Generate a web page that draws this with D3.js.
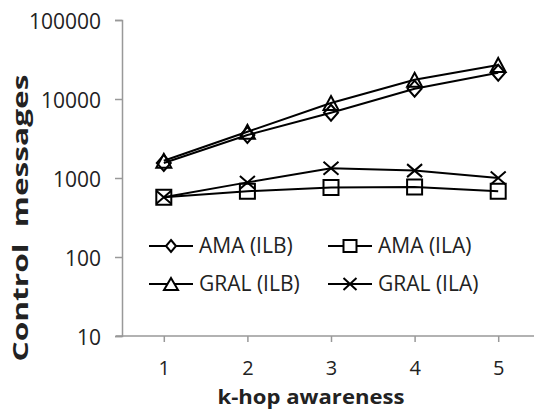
<!DOCTYPE html>
<html>
<head>
<meta charset="utf-8">
<script src="https://cdn.jsdelivr.net/npm/d3@7"></script>
<style>
  body { margin: 0; background: #fff; }
  text { font-family: "Open Sans", sans-serif; fill: #222; }
  .axis path, .axis line { stroke: #999; stroke-width: 1.5; }
  .axis text { font-size: 21px; }
  .title { font-weight: bold; font-size: 21px; }
  .legend text { font-size: 21px; }
</style>
</head>
<body>
<div id="chart"></div>
<script>
// data
var hops = [1, 2, 3, 4, 5];
var amaIlb = [1550, 3500, 6700, 13500, 21500];
var gralIlb = [1650, 3850, 8900, 17500, 27000];
var amaIla = [570, 680, 760, 770, 680];
var gralIla = [570, 880, 1330, 1240, 1000];
var yTicks = [10, 100, 1000, 10000, 100000];

var series = [
  { name: "AMA (ILB)", values: amaIlb, shape: "diamond" },
  { name: "AMA (ILA)", values: amaIla, shape: "square" },
  { name: "GRAL (ILB)", values: gralIlb, shape: "triangle" },
  { name: "GRAL (ILA)", values: gralIla, shape: "cross" }
];

// svg params
var svgWidth = 534;
var svgHeight = 410;

var svg = d3.select("#chart").append("svg")
  .attr("width", svgWidth)
  .attr("height", svgHeight);

// scales
var xScale = d3.scaleLinear().domain([0.5, 5.5]).range([122, 540]);
var yScale = d3.scaleLog().domain([10, 100000]).range([336, 20]);

// y axis
svg.append("g")
  .attr("class", "axis")
  .attr("transform", "translate(122,0)")
  .call(d3.axisLeft(yScale).tickValues(yTicks).tickFormat(d3.format("d")).tickSize(7).tickPadding(14))
  .call(g => g.selectAll("text").attr("dy", "0.4em"));

// x axis
svg.append("g")
  .attr("class", "axis")
  .attr("transform", "translate(0,336)")
  .call(d3.axisBottom(xScale).tickValues(hops).tickFormat(d3.format("d")).tickSizeInner(6).tickSizeOuter(0).tickPadding(19))
  .call(g => g.select(".domain").attr("d", "M116,0H534"))
  .call(g => g.selectAll("text").style("font-size", "20px"));

// axis titles (the picture is stretched a bit vertically)
svg.append("text")
  .attr("class", "title")
  .attr("transform", "translate(28,218) rotate(-90)")
  .attr("text-anchor", "middle")
  .attr("xml:space", "preserve")
  .attr("textLength", 287)
  .attr("lengthAdjust", "spacingAndGlyphs")
  .text("Control  messages");

svg.append("text")
  .attr("class", "title")
  .style("font-size", "20px")
  .attr("x", 311)
  .attr("y", 404)
  .attr("text-anchor", "middle")
  .attr("textLength", 187)
  .attr("lengthAdjust", "spacingAndGlyphs")
  .text("k-hop awareness");

// marker shapes, w/h = full width and height
function markerPath(shape, w, h) {
  var a = w / 2, b = h / 2;
  switch (shape) {
    case "diamond":
      return `M0,${-b}L${a},0L0,${b}L${-a},0Z`;
    case "square":
      return `M${-a},${-b}H${a}V${b}H${-a}Z`;
    case "triangle":
      return `M0,${-b}L${a},${b}H${-a}Z`;
    case "cross":
      return `M${-a},${-b}L${a},${b}M${a},${-b}L${-a},${b}`;
  }
}
var plotSize = { diamond: [14, 16], square: [15, 15], triangle: [15, 14], cross: [15, 13] };
var legendSize = { diamond: [10, 12], square: [13, 12], triangle: [14, 12], cross: [13, 12] };

var line = d3.line()
  .x((d, i) => xScale(hops[i]))
  .y(d => yScale(d));

var seriesGroup = svg.append("g").selectAll("g")
  .data(series)
  .enter()
  .append("g");

seriesGroup.append("path")
  .attr("d", d => line(d.values))
  .attr("fill", "none")
  .attr("stroke", "#000")
  .attr("stroke-width", 2);

seriesGroup.each(function(s) {
  d3.select(this).selectAll(".mark")
    .data(s.values)
    .enter()
    .append("path")
    .attr("class", "mark")
    .attr("transform", (d, i) => `translate(${xScale(hops[i])},${yScale(d)})`)
    .attr("d", markerPath(s.shape, plotSize[s.shape][0], plotSize[s.shape][1]))
    .attr("fill", "none")
    .attr("stroke", "#000")
    .attr("stroke-width", 2);
});

// legend, two columns
var legendPos = [[149, 246], [328, 246], [149, 284], [328, 284]];
var legend = svg.append("g").attr("class", "legend").selectAll("g")
  .data(series)
  .enter()
  .append("g")
  .attr("transform", (d, i) => `translate(${legendPos[i][0]},${legendPos[i][1]})`);

legend.append("line")
  .attr("x1", 0).attr("x2", 44)
  .attr("stroke", "#000")
  .attr("stroke-width", 2);

legend.append("path")
  .attr("transform", "translate(22,0)")
  .attr("d", d => markerPath(d.shape, legendSize[d.shape][0], legendSize[d.shape][1]))
  .attr("fill", "#fff")
  .attr("stroke", "#000")
  .attr("stroke-width", 2);

legend.append("text")
  .attr("x", 50)
  .attr("dy", "0.35em")
  .text(d => d.name);
</script>
</body>
</html>
